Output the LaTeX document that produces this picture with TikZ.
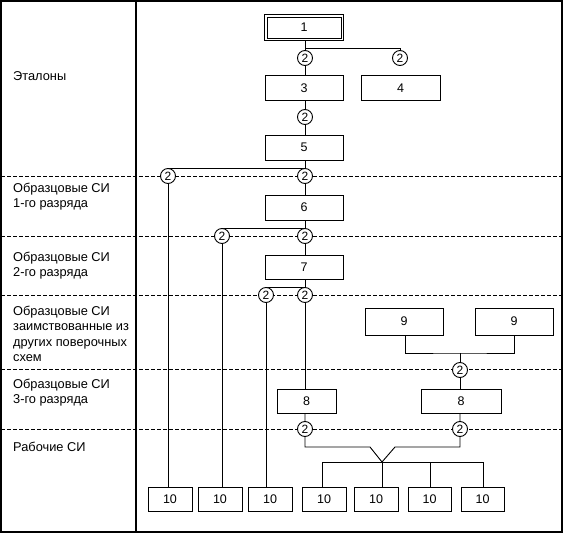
\documentclass[tikz,border=0pt]{standalone}
\usepackage{fontspec}
\setmainfont{Liberation Sans}
\newcommand\lblfont{\fontsize{12.8}{15.4}\selectfont}
\newcommand\numfont{\fontsize{12.5}{14}\selectfont}
\begin{document}
\begin{tikzpicture}[x=1pt,y=-1pt,
  box/.style={draw,line width=0.9pt,minimum width=78pt,minimum height=25pt,inner sep=0pt,font=\numfont},
  smallbox/.style={box,minimum width=44pt,minimum height=24pt},
  circ/.style={circle,draw,fill=white,line width=0.9pt,minimum size=15pt,inner sep=0pt,font=\fontsize{12}{12}\selectfont},
  conn/.style={line width=0.9pt},
  sep/.style={line width=0.8pt,dash pattern=on 4pt off 2pt},
  lbl/.style={anchor=north west,align=left,inner sep=0pt,font=\lblfont}]
\useasboundingbox (0,0) rectangle (563,533);
% frame
\draw[line width=1.2pt] (1,1) rectangle (562,532);
\draw[line width=1.2pt] (136,1) -- (136,532);
\foreach \yy in {176,236,295,369,429} \draw[sep] (1,\yy) -- (562,\yy);
% labels
\node[lbl,anchor=base west] (l1) at (13,80) {Эталоны};
\node[lbl] (l2) at (13,183) {Образцовые СИ\\1-го разряда};
\node[lbl] (l3) at (13,252) {Образцовые СИ\\2-го разряда};
\node[lbl] (l4) at (13,306) {Образцовые СИ\\заимствованные из\\других поверочных\\схем};
\node[lbl] (l5) at (13,379) {Образцовые СИ\\3-го разряда};
\node[lbl,anchor=base west] (l6) at (13,451) {Рабочие СИ};
% boxes
\node[box,minimum width=74pt,minimum height=21pt] (b1) at (304,27.5) {1};
\draw[line width=0.9pt] ([shift={(-2,2)}]b1.south west) rectangle ([shift={(2,-2)}]b1.north east);
\node[box] (b3) at (304,88) {3};
\node[box,minimum width=79pt] (b4) at (400.5,88) {4};
\node[box] (b5) at (304,147.5) {5};
\node[box] (b6) at (304,207.5) {6};
\node[box,minimum height=24pt] (b7) at (304,267) {7};
\node[box,minimum height=27pt] (b9a) at (404,321.5) {9};
\node[box,minimum height=27pt] (b9b) at (514,321.5) {9};
\node[box,minimum width=59pt,minimum height=24pt] (b8a) at (306.5,401) {8};
\node[box,minimum width=80pt,minimum height=24pt] (b8b) at (461,401) {8};
\node[smallbox] (t1) at (170,499) {10};
\node[smallbox] (t2) at (220,499) {10};
\node[smallbox] (t3) at (270,499) {10};
\node[smallbox] (t4) at (324,499) {10};
\node[smallbox] (t5) at (376,499) {10};
\node[smallbox,minimum width=43pt] (t6) at (429.5,499) {10};
\node[smallbox,minimum width=43pt] (t7) at (482.5,499) {10};
% coordinates for branch lines
\coordinate (ha) at (400,48);
\coordinate (hb) at (305,48);
\coordinate (v) at (382,462);
\coordinate (vl) at (370,447);
\coordinate (vr) at (395,447);
\coordinate (hl) at (322,462);
\coordinate (hr) at (483,462);
\coordinate (n9) at (460,353);
% connectors (drawn before circles)
\draw[conn] (b1.south -| hb) ++(0,2) -- (hb) -- (ha) -- (400,51);
\draw[conn] (hb) -- (b3.north -| hb);
\draw[conn] (b3.south -| hb) -- (b5.north -| hb);
\draw[conn] (b5.south -| hb) -- (b6.north -| hb);
\draw[conn] (168,168) -- (305,168);
\draw[conn] (168,176) -- (t1.north -| 168,0);
\draw[conn] (b6.south -| hb) -- (b7.north -| hb);
\draw[conn] (222,228) -- (305,228);
\draw[conn] (222,236) -- (t2.north -| 222,0);
\draw[conn] (266,287) -- (305,287);
\draw[conn] (266,295) -- (t3.north -| 266,0);
\draw[conn] (b7.south -| hb) -- (b8a.north -| hb);
\draw[conn] (b9a.south -| 405,0) |- (n9) -| (b9b.south);
\draw[conn] (n9) -- (b8b.north -| n9);
\draw[conn] (b8a.south -| hb) |- (vl) -- (v);
\draw[conn] (b8b.south -| n9) |- (vr) -- (v);
\draw[conn] (t4.north -| hl) |- (hr) -- (t7.north -| hr);
\draw[conn] (v) -- (t5.north -| v);
\draw[conn] (430,462) -- (t6.north -| 430,0);
% circles
\node[circ] (c1) at (305,58) {2};
\node[circ] (c2) at (400,58) {2};
\node[circ] (c3) at (305,117) {2};
\node[circ] (c4) at (168,176) {2};
\node[circ] (c5) at (305,176) {2};
\node[circ] (c6) at (222,236) {2};
\node[circ] (c7) at (305,236) {2};
\node[circ] (c8) at (266,295) {2};
\node[circ] (c9) at (305,295) {2};
\node[circ] (c10) at (460,370) {2};
\node[circ] (c11) at (305,429) {2};
\node[circ] (c12) at (460,429) {2};
\end{tikzpicture}
\end{document}
